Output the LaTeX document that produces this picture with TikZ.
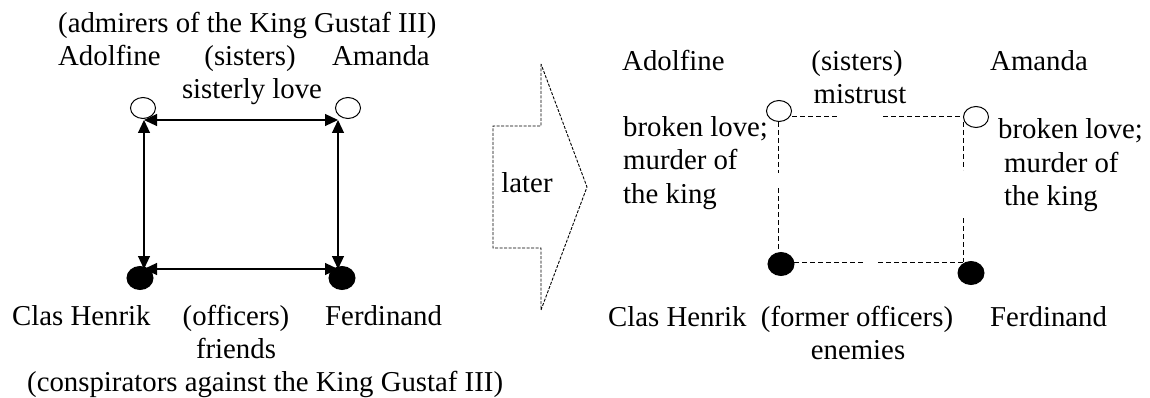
\documentclass[tikz,border=0pt]{standalone}
\usepackage{fontspec}
\setmainfont{Liberation Serif}
\usetikzlibrary{arrows.meta,shapes.geometric}
\begin{document}
\begin{tikzpicture}[x=1pt,y=-1pt,
  lbl/.style={inner sep=0pt, font=\fontsize{28.8}{33}\selectfont},
  lw/.style={lbl, anchor=base west},
  lc/.style={lbl, anchor=base},
  openv/.style={ellipse, draw, line width=1pt, minimum width=25pt, minimum height=21pt, inner sep=0pt},
  fullv/.style={ellipse, draw, fill=black, line width=1pt, minimum width=26pt, minimum height=23pt, inner sep=0pt},
  rel/.style={line width=1.2pt, {Triangle[length=13pt,width=12pt]}-{Triangle[length=13pt,width=12pt]}},
  brk/.style={line width=1pt, dash pattern=on 5pt off 3pt},
  later/.style={line width=0.9pt, dash pattern=on 3pt off 1.5pt}]
\useasboundingbox (0,0) rectangle (1150,398);

% ---------- left diagram ----------
\node[lw] (t1) at (58,33) {(admirers of the King Gustaf III)};
\node[lw] (ad) at (58,66) {Adolfine};
\node[lc] (si) at (250,66) {(sisters)};
\node[lw] (am) at (332,66) {Amanda};
\node[lc] (sl) at (252,99) {sisterly love};

\node[openv] (A) at (143,108) {};
\node[openv] (B) at (348,108) {};
\node[fullv] (C) at (140,278) {};
\node[fullv] (D) at (342,278) {};

\coordinate (ctl) at (144,120);
\coordinate (ctr) at (338,120);
\coordinate (cbl) at (144,269);
\coordinate (cbr) at (338,269);
\draw[rel] (ctl) -- (ctr);
\draw[rel] (ctl) -- (cbl);
\draw[rel] (ctr) -- (cbr);
\draw[rel] (cbl) -- (cbr);

\node[lw] (ch) at (12,325) {Clas Henrik};
\node[lc] (of) at (236,325) {(officers)};
\node[lw] (fe) at (325,325) {Ferdinand};
\node[lc] (fr) at (236,358) {friends};
\node[lw] (t2) at (27,391) {(conspirators against the King Gustaf III)};

% ---------- transition arrow ----------
\draw[later] (541,64) -- (541,126) -- (493,126) -- (493,248) -- (541,248) -- (541,310) -- (587,187) -- cycle;
\node[lc] (lt) at (527,193) {later};

% ---------- right diagram ----------
\node[lw] (ad2) at (622,71) {Adolfine};
\node[lc] (si2) at (857,71) {(sisters)};
\node[lw] (am2) at (990,71) {Amanda};
\node[lc] (mi) at (860,104) {mistrust};

\node[lw] (bl1) at (623,137) {broken love;};
\node[lw] (bl2) at (623,170) {murder of};
\node[lw] (bl3) at (623,203) {the king};
\node[lw] (br1) at (998,139) {broken love;};
\node[lw] (br2) at (1004,172) {murder of};
\node[lw] (br3) at (1004,205) {the king};

\node[openv] (A2) at (779,111) {};
\node[openv] (B2) at (976,117) {};
\node[fullv] (C2) at (781,264) {};
\node[fullv] (D2) at (971,273) {};

\coordinate (p1) at (792,117);
\coordinate (p2) at (838,117);
\coordinate (p3) at (883,117);
\coordinate (p4) at (963,117);
\draw[brk] (p1) -- (p2);
\draw[brk] (p3) -- (p4);
\coordinate (q1) at (778,122);
\coordinate (q2) at (778,173);
\coordinate (q3) at (778,188);
\coordinate (q4) at (778,250);
\draw[brk] (q1) -- (q2);
\draw[brk] (q3) -- (q4);
\coordinate (r1) at (963,122);
\coordinate (r2) at (963,170);
\coordinate (r3) at (963,218);
\coordinate (r4) at (963,262);
\draw[brk] (r1) -- (r2);
\draw[brk] (r3) -- (r4);
\coordinate (s1) at (794,262);
\coordinate (s2) at (865,262);
\coordinate (s3) at (878,262);
\coordinate (s4) at (963,262);
\draw[brk] (s1) -- (s2);
\draw[brk] (s3) -- (s4);

\node[lw] (ch2) at (608,326) {Clas Henrik};
\node[lc] (fo) at (857,326) {(former officers)};
\node[lw] (fe2) at (990,326) {Ferdinand};
\node[lc] (en) at (858,359) {enemies};
\end{tikzpicture}
\end{document}
